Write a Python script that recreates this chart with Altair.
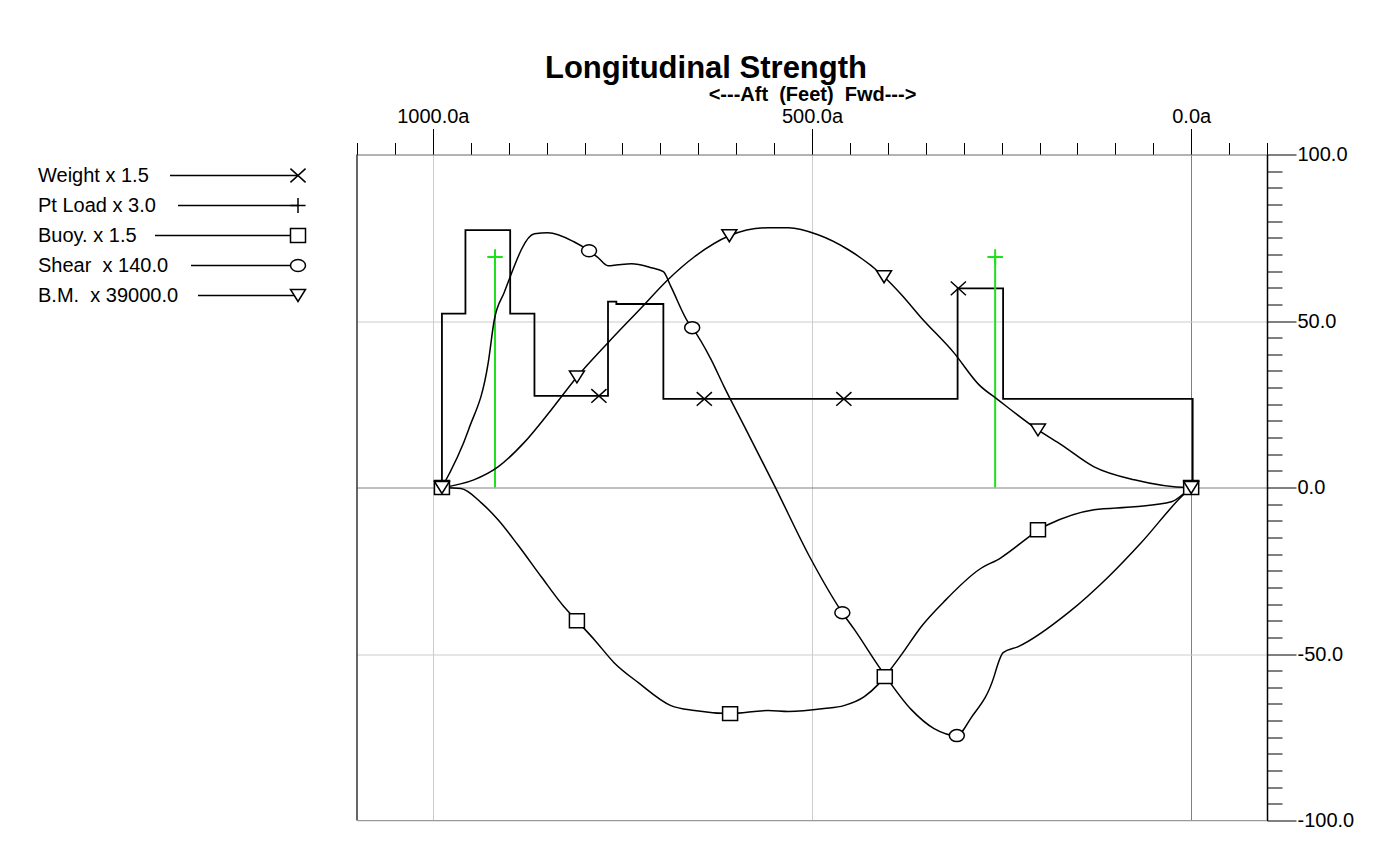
import altair as alt
import pandas as pd

# ---------------- data ----------------
# Weight (step curve)
WEIGHT_FT = [988, 988, 957, 957, 898, 898, 866, 866, 769, 769, 758, 758, 696, 696,
             308, 308, 248, 248, -2, -2]
WEIGHT_VAL = [0, 52.2, 52.2, 77.3, 77.3, 52.2, 52.2, 27.5, 27.5, 55.8, 55.8, 55.1, 55.1, 26.6,
              26.6, 59.8, 59.8, 26.6, 26.6, 0]
WEIGHT_MARK_FT = [781, 642, 458, 307]
WEIGHT_MARK_VAL = [27.5, 26.6, 26.6, 59.8]

# Point loads
PTLOAD_FT = [918, 258.5]
PTLOAD_VAL = [69.2, 69.2]

# Buoyancy
BUOY_FT = [988, 963, 936, 914, 888, 857, 827, 810, 787, 761, 729, 686, 655, 608, 558, 531,
           484, 458, 431, 413, 404, 382, 356, 326, 280, 251, 214, 202, 189, 128, 75, 26, 4, 0]
BUOY_VAL = [0, -0.3, -4.6, -9.7, -17.2, -26.8, -35.8, -40.0, -45.7, -52.6, -58.6, -65.5, -67.0,
            -67.9, -67.0, -67.3, -66.4, -65.5, -62.8, -59.2, -56.8, -50.2, -41.8, -34.3, -24.7,
            -21.1, -14.8, -12.7, -11.2, -6.7, -5.8, -4.3, -0.7, 0]
BUOY_MARK_FT = [988, 810, 608, 404, 202, 0]
BUOY_MARK_VAL = [0, -40.0, -67.9, -56.8, -12.7, 0]

# Shear
SHEAR_FT = [988, 953, 927, 919, 906, 866, 848, 814, 794, 782, 769, 756, 738, 712, 696, 686,
            663, 658, 633, 616, 589, 550, 501, 460, 444, 409, 369, 339, 309, 290, 260, 256,
            248, 228, 162, 109, 66, 13, 0]
SHEAR_VAL = [0, 17.3, 37.4, 50.3, 58.5, 76.2, 76.5, 73.8, 71.1, 69.0, 66.6, 66.9, 67.2, 66.0,
             64.8, 60.3, 49.5, 48.0, 38.4, 30.3, 18.3, 0.8, -21.7, -37.6, -42.7, -54.7, -66.7,
             -72.4, -74.5, -69.1, -56.8, -53.8, -49.6, -47.8, -37.6, -26.8, -16.6, -2.8, 0]
SHEAR_MARK_FT = [794, 658, 460, 309]
SHEAR_MARK_VAL = [71.1, 48.0, -37.6, -74.5]

# Bending moment
BM_FT = [988, 946, 914, 880, 844, 810, 769, 725, 690, 655, 609, 558, 531, 492, 452, 405,
         382, 356, 313, 280, 255, 202, 171, 128, 75, 4, 0]
BM_VAL = [0, 2.3, 6.2, 13.4, 23.3, 33.2, 43.5, 54.0, 62.4, 69.3, 75.6, 78.0, 78.0, 75.9,
          71.4, 63.3, 57.9, 51.0, 40.5, 30.9, 26.4, 17.3, 12.8, 6.2, 2.3, 0, 0]
BM_MARK_FT = [988, 810, 609, 405, 202, 0]
BM_MARK_VAL = [0, 33.2, 75.6, 63.3, 17.3, 0]

LEGEND_LABELS = ["Weight x 1.5", "Pt Load x 3.0", "Buoy. x 1.5",
                 "Shear\u00a0 x 140.0", "B.M.\u00a0 x 39000.0"]

TITLE = "Longitudinal Strength"
X_TITLE = "<---Aft\u00a0 (Feet)\u00a0 Fwd--->"

# ---------------- layout / style ----------------
FONT = "Liberation Sans"
W, H = 910, 666
GREEN = "#1ee01e"
X_PATH = "M-1,-0.9L1,0.9M-1,0.9L1,-0.9"
PLUS_PATH = "M-1,0L1,0M0,-1L0,1"
ELLIPSE_PATH = ("M-1,0C-1,-0.44,-0.55,-0.8,0,-0.8C0.55,-0.8,1,-0.44,1,0"
                "C1,0.44,0.55,0.8,0,0.8C-0.55,0.8,-1,0.44,-1,0Z")
TRI_PATH = "M-1,-0.8L1,-0.8L0,0.8Z"
SQ_PATH = "M-1,-0.93L1,-0.93L1,0.93L-1,0.93Z"

LEG_TEXT_X = -319
LEG_MARK_X = -59
LEG_Y0 = 21
LEG_DY = 30
LEG_LINE_START = [-187, -179, -202, -166, -159]


def frame(ft, val):
    return pd.DataFrame({"ft": ft, "val": val, "i": list(range(len(ft)))})


x_axis = alt.Axis(
    orient="top",
    values=list(range(-100, 1101, 50)),
    title=X_TITLE,
    titleFont=FONT, titleFontSize=20, titleFontWeight="bold", titleColor="black",
    titlePadding=2,
    labelExpr="datum.value % 500 === 0 ? format(datum.value, '.1f') + 'a' : ''",
    labelFont=FONT, labelFontSize=20, labelColor="black", labelPadding=2,
    labelFlush=False, labelOverlap=False,
    tickSize={"condition": {"test": "datum.value % 500 === 0", "value": 26}, "value": 12},
    tickColor="black", tickWidth=1,
    domainColor="#808080", domainWidth=1,
    grid=True,
    gridColor={"condition": {"test": "datum.value === 0", "value": "#808080"}, "value": "#cccccc"},
    gridOpacity={"condition": {"test": "datum.value % 500 === 0", "value": 1}, "value": 0},
    gridWidth=1,
)

y_axis = alt.Axis(
    orient="right",
    values=list(range(-100, 101, 5)),
    title=None,
    labelExpr=("datum.value % 50 === 0 ? (datum.value < 0 ? '-' : '') + "
               "format(abs(datum.value), '.1f') : ''"),
    labelFont=FONT, labelFontSize=20, labelColor="black", labelPadding=1,
    labelFlush=False, labelOverlap=False, labelAlign="left", labelBaseline="middle",
    tickSize={"condition": {"test": "datum.value % 50 === 0", "value": 29}, "value": 15},
    tickColor="black", tickWidth=1,
    domainColor="black", domainWidth=1.5,
    grid=True,
    gridColor={"condition": {"test": "datum.value === 0", "value": "#808080"}, "value": "#cccccc"},
    gridOpacity={"condition": {"test": "datum.value % 50 === 0", "value": 1}, "value": 0},
    gridWidth=1,
)

X = alt.X("ft:Q", scale=alt.Scale(domain=[-100, 1100], reverse=True, nice=False, zero=False),
          axis=x_axis)
Y = alt.Y("val:Q", scale=alt.Scale(domain=[-100, 100], nice=False, zero=False), axis=y_axis)


def curve(ft, val, width=1.5, interp="monotone"):
    return alt.Chart(frame(ft, val)).mark_line(
        color="black", strokeWidth=width, interpolate=interp).encode(x=X, y=Y, order="i:Q")


def markers(ft, val, shape, size=225, filled=True, color="black", sw=1.5):
    if filled:
        m = alt.Chart(frame(ft, val)).mark_point(shape=shape, size=size, filled=True, fill="white",
                                                 stroke=color, strokeWidth=sw, opacity=1)
    else:
        m = alt.Chart(frame(ft, val)).mark_point(shape=shape, size=size, filled=False,
                                                 color=color, strokeWidth=sw, opacity=1)
    return m.encode(x=X, y=Y)


one = alt.Data(values=[{}])

# plot borders
left_border = alt.Chart(one).mark_rule(color="black", strokeWidth=1.2).encode(
    x=alt.value(0), y=alt.value(0), y2=alt.value(H))
bottom_border = alt.Chart(one).mark_rule(color="#999999", strokeWidth=1.2).encode(
    x=alt.value(0), x2=alt.value(W), y=alt.value(H))

weight_line = curve(WEIGHT_FT, WEIGHT_VAL, 1.8, "linear")
pt_rules = alt.Chart(frame(PTLOAD_FT, PTLOAD_VAL)).mark_rule(color=GREEN, strokeWidth=2).encode(
    x=X, y=Y, y2=alt.datum(0))
buoy_line = curve(BUOY_FT, BUOY_VAL)
shear_line = curve(SHEAR_FT, SHEAR_VAL)
bm_line = curve(BM_FT, BM_VAL)

weight_pts = markers(WEIGHT_MARK_FT, WEIGHT_MARK_VAL, X_PATH, 230, filled=False)
pt_pts = markers(PTLOAD_FT, PTLOAD_VAL, PLUS_PATH, 240, filled=False, color=GREEN, sw=2)
buoy_pts = markers(BUOY_MARK_FT, BUOY_MARK_VAL, SQ_PATH, 225)
shear_pts = markers(SHEAR_MARK_FT, SHEAR_MARK_VAL, ELLIPSE_PATH, 225)
bm_pts = markers(BM_MARK_FT, BM_MARK_VAL, TRI_PATH, 225)

# legend (label, line, end marker)
legend_shapes = [(X_PATH, False), (PLUS_PATH, False), (SQ_PATH, True),
                 (ELLIPSE_PATH, True), (TRI_PATH, True)]
legend_layers = []
for k, label in enumerate(LEGEND_LABELS):
    ry = LEG_Y0 + k * LEG_DY
    legend_layers.append(
        alt.Chart(one).mark_text(text=label, align="left", baseline="middle", font=FONT,
                                 fontSize=20, color="black").encode(
            x=alt.value(LEG_TEXT_X), y=alt.value(ry)))
    legend_layers.append(
        alt.Chart(one).mark_rule(color="black", strokeWidth=1.3).encode(
            x=alt.value(LEG_LINE_START[k]), x2=alt.value(LEG_MARK_X), y=alt.value(ry)))
    shp, fil = legend_shapes[k]
    if fil:
        mk = alt.Chart(one).mark_point(shape=shp, size=225, filled=True, fill="white",
                                       stroke="black", strokeWidth=1.5, opacity=1)
    else:
        mk = alt.Chart(one).mark_point(shape=shp, size=230, filled=False, color="black",
                                       strokeWidth=1.5, opacity=1)
    legend_layers.append(mk.encode(x=alt.value(LEG_MARK_X), y=alt.value(ry)))

chart = alt.layer(
    weight_line, pt_rules, buoy_line, shear_line, bm_line,
    weight_pts, pt_pts, buoy_pts, shear_pts, bm_pts,
    left_border, bottom_border,
    *legend_layers,
).properties(
    width=W, height=H,
    title=alt.TitleParams(TITLE, anchor="middle", frame="group", font=FONT, fontSize=31,
                          fontWeight="bold", color="black", dx=-106, dy=4, offset=4),
    autosize=alt.AutoSizeParams(type="none"),
    padding={"left": 349, "top": 146.5, "right": 124, "bottom": 14},
    background="white",
).configure_view(stroke=None)

chart.save("out.html", embed_options={"renderer": "svg", "actions": False})
